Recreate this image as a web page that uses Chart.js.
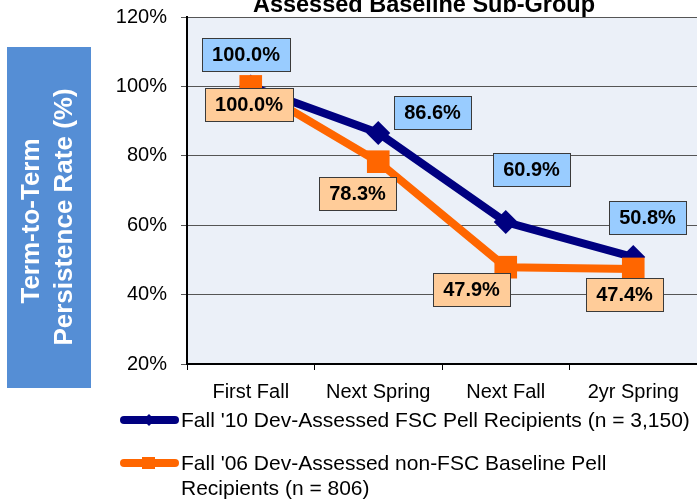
<!DOCTYPE html>
<html lang="en">
<head>
<meta charset="UTF-8">
<title>Term-to-Term Persistence - Pell Recipients</title>
<script src="https://cdn.jsdelivr.net/npm/chart.js"></script>
<style>
  body { margin: 0; background: #fff; }
  #wrap { width: 697px; height: 500px; }
</style>
</head>
<body>
<div id="wrap"><canvas id="persistChart" width="697" height="500"></canvas></div>
<script>
// data
const categories = ['First Fall', 'Next Spring', 'Next Fall', '2yr Spring'];
const fscPell = [100.0, 86.6, 60.9, 50.8];
const baselinePell = [100.0, 78.3, 47.9, 47.4];
const yTickValues = [20, 40, 60, 80, 100, 120];
const seriesNames = [
    "Fall '10 Dev-Assessed FSC Pell Recipients (n = 3,150)",
    "Fall '06 Dev-Assessed non-FSC Baseline Pell Recipients (n = 806)"
];
const chartTitle = 'Assessed Baseline Sub-Group';
const yTitleLines = ['Term-to-Term', 'Persistence Rate (%)'];

const FONT = '"Liberation Sans", Arial, sans-serif';
const NAVY = '#000080';
const ORANGE = '#ff6600';

// plot background
const plotBg = {
    id: 'plotBg',
    beforeDraw(chart) {
        const { ctx, chartArea: a } = chart;
        ctx.save();
        ctx.fillStyle = '#ebf0f8';
        ctx.fillRect(a.left, a.top, a.right - a.left, a.bottom - a.top);
        ctx.restore();
    }
};

// boxed value labels next to each point
const boxLabels = {
    id: 'boxLabels',
    afterDatasetsDraw(chart, args, opts) {
        const ctx = chart.ctx;
        ctx.save();
        ctx.font = 'bold 20px ' + FONT;
        ctx.textAlign = 'center';
        ctx.textBaseline = 'middle';
        chart.data.datasets.forEach((ds, i) => {
            const meta = chart.getDatasetMeta(i);
            meta.data.forEach((pt, j) => {
                const txt = ds.data[j].toFixed(1) + '%';
                const off = opts.offsets[i][j];
                const cx = pt.x + off[0], cy = pt.y + off[1];
                const w = Math.round(ctx.measureText(txt).width + 20), h = 33;
                const x0 = Math.round(cx - w / 2), y0 = Math.round(cy - h / 2);
                ctx.fillStyle = opts.fills[i];
                ctx.fillRect(x0, y0, w, h);
                ctx.strokeStyle = '#3a3a3a';
                ctx.lineWidth = 1;
                ctx.strokeRect(x0 + 0.5, y0 + 0.5, w, h);
                ctx.fillStyle = '#000';
                ctx.fillText(txt, x0 + w / 2, y0 + h / 2 + 1);
            });
        });
        ctx.restore();
    }
};

// title (cut at the top), boxed y title and the legend
const extras = {
    id: 'extras',
    afterDraw(chart) {
        const ctx = chart.ctx;
        const a = chart.chartArea;
        ctx.save();

        ctx.fillStyle = '#000';
        ctx.font = 'bold 23.5px ' + FONT;
        ctx.textAlign = 'center';
        ctx.textBaseline = 'alphabetic';
        ctx.fillText(chartTitle, 424, 12);

        ctx.fillStyle = '#558ed5';
        ctx.fillRect(7, 47, 84, 341);
        ctx.save();
        ctx.translate(49, 217);
        ctx.rotate(-Math.PI / 2);
        ctx.fillStyle = '#fff';
        ctx.font = 'bold 26px ' + FONT;
        ctx.textAlign = 'center';
        ctx.textBaseline = 'middle';
        ctx.fillText(yTitleLines[0], -4, -17);
        ctx.fillText(yTitleLines[1], 0, 16);
        ctx.restore();

        // legend
        ctx.font = '21px ' + FONT;
        ctx.textAlign = 'left';
        ctx.textBaseline = 'middle';
        const rowsY = [a.bottom + 56, a.bottom + 99];
        chart.data.datasets.forEach((ds, i) => {
            const y = rowsY[i];
            ctx.strokeStyle = ds.borderColor;
            ctx.lineWidth = 8;
            ctx.lineCap = 'round';
            ctx.beginPath();
            ctx.moveTo(124, y);
            ctx.lineTo(175, y);
            ctx.stroke();
            ctx.fillStyle = ds.borderColor;
            if (ds.pointStyle === 'rectRot') {
                ctx.beginPath();
                ctx.moveTo(149, y - 6);
                ctx.lineTo(155, y);
                ctx.lineTo(149, y + 6);
                ctx.lineTo(143, y);
                ctx.closePath();
                ctx.fill();
            } else {
                ctx.fillRect(142, y - 6, 13, 12);
            }
            // word wrap
            const words = ds.label.split(' ');
            const maxW = 697 - 181 + 4;
            let line = '', ly = y + 1;
            words.forEach(wd => {
                const test = line ? line + ' ' + wd : wd;
                if (ctx.measureText(test).width > maxW && line) {
                    ctx.fillStyle = '#000';
                    ctx.fillText(line, 181, ly);
                    line = wd;
                    ly += 25;
                } else {
                    line = test;
                }
            });
            ctx.fillStyle = '#000';
            ctx.fillText(line, 181, ly);
        });
        ctx.restore();
    }
};

new Chart(document.getElementById('persistChart'), {
    type: 'line',
    data: {
        labels: categories,
        datasets: [{
            label: seriesNames[0],
            data: fscPell,
            borderColor: NAVY,
            backgroundColor: NAVY,
            borderWidth: 8,
            pointStyle: 'rectRot',
            pointRadius: 12,
            pointBorderWidth: 0,
            tension: 0,
            order: 1
        }, {
            label: seriesNames[1],
            data: baselinePell,
            borderColor: ORANGE,
            backgroundColor: ORANGE,
            borderWidth: 8,
            pointStyle: 'rect',
            pointRadius: 16,
            pointBorderWidth: 0,
            tension: 0,
            order: 0
        }]
    },
    options: {
        responsive: false,
        animation: false,
        layout: { autoPadding: false, padding: { top: 17, right: 0, bottom: 0, left: 0 } },
        plugins: {
            legend: { display: false },
            title: { display: false },
            tooltip: { enabled: false },
            boxLabels: {
                offsets: [
                    [[-5, -32], [54, -20], [26, -53], [14, -40]],
                    [[-2, 18], [-21, 32], [-34, 22], [-9, 26]]
                ],
                fills: ['#99ccff', '#ffcc99']
            }
        },
        scales: {
            x: {
                offset: true,
                afterFit: s => { s.height = 136; s.paddingLeft = 0; s.paddingRight = 0; },
                ticks: {
                    color: '#000',
                    font: { family: FONT, size: 20 },
                    padding: 10,
                    maxRotation: 0,
                    autoSkip: false
                },
                grid: { offset: true, drawOnChartArea: false, tickLength: 6, color: '#000' },
                border: { color: '#000', width: 2 }
            },
            y: {
                min: yTickValues[0],
                max: yTickValues[yTickValues.length - 1],
                afterFit: s => { s.width = 187; s.paddingTop = 0; s.paddingBottom = 0; },
                afterBuildTicks: s => { s.ticks = yTickValues.map(v => ({ value: v })); },
                ticks: {
                    color: '#000',
                    font: { family: FONT, size: 20 },
                    padding: 14,
                    callback: v => v + '%'
                },
                grid: { color: '#555', lineWidth: 1, tickLength: 6 },
                border: { color: '#000', width: 2 }
            }
        }
    },
    plugins: [plotBg, boxLabels, extras]
});
</script>
</body>
</html>
